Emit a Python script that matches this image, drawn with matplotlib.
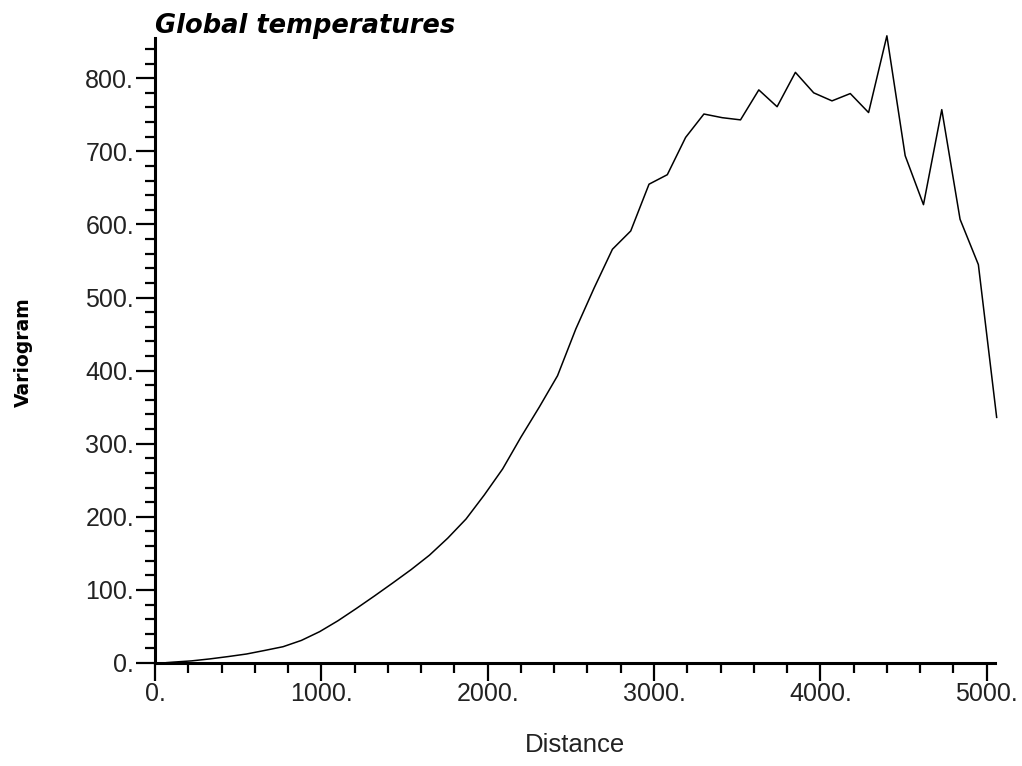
import matplotlib
matplotlib.use("Agg")
import matplotlib.pyplot as plt
from matplotlib.ticker import MultipleLocator, FuncFormatter

# Data
distance = [70, 110, 220, 330, 440, 550, 660, 770, 880, 990, 1100,
            1210, 1320, 1430, 1540, 1650, 1760, 1870, 1980, 2090, 2200,
            2310, 2420, 2530, 2640, 2750, 2860, 2970, 3080, 3190, 3300,
            3410, 3520, 3630, 3740, 3850, 3960, 4070, 4180, 4290, 4400,
            4510, 4620, 4730, 4840, 4950, 5060]
variogram = [0.5, 1.2, 2.9, 5.6, 8.8, 12.3, 17.2, 22.3, 30.9, 42.9, 57.8,
             74.5, 91.8, 109.6, 127.8, 147.5, 170.8, 197, 230, 265.5, 309,
             350, 393, 457, 513, 566, 591, 655, 668, 719, 751,
             746, 743, 784, 761, 808, 780, 769, 779, 753, 858,
             694, 627, 757, 607, 545, 336]

title = "Global temperatures"
xlabel = "Distance"
ylabel = "Variogram"

fig = plt.figure(figsize=(10.22, 7.66), dpi=100)
ax = fig.add_axes([155/1022, 1 - 663/766, 840/1022, 625/766])

ax.plot(distance, variogram, color="black", linewidth=1.1, clip_on=False)

ax.set_xlim(0, 5050)
ax.set_ylim(0, 855)

for s in ["top", "right"]:
    ax.spines[s].set_visible(False)
for s in ["left", "bottom"]:
    ax.spines[s].set_linewidth(2.2)
    ax.spines[s].set_color("black")

ax.xaxis.set_major_locator(MultipleLocator(1000))
ax.xaxis.set_minor_locator(MultipleLocator(200))
ax.yaxis.set_major_locator(MultipleLocator(100))
ax.yaxis.set_minor_locator(MultipleLocator(20))

fmt = FuncFormatter(lambda v, p: f"{int(round(v))}.")
ax.xaxis.set_major_formatter(fmt)
ax.yaxis.set_major_formatter(fmt)

ax.tick_params(axis="both", which="major", direction="out", length=14,
               width=1.6, color="black", labelsize=18, labelcolor="#222222", pad=1)
ax.tick_params(axis="both", which="minor", direction="out", length=7,
               width=1.6, color="black")
ax.tick_params(axis="x", which="major", length=13, pad=1)
for lab in ax.get_xticklabels() + ax.get_yticklabels():
    lab.set_fontfamily("Liberation Sans")

fig.text(155/1022, 1 - 33/766, title, fontsize=18.5, fontweight="bold",
         fontstyle="italic", family="DejaVu Sans", ha="left", va="baseline")
fig.text(575/1022, 1 - 745/766, xlabel, fontsize=18.5, family="Liberation Sans",
         color="#222222", ha="center", va="center")
fig.text(23/1022, 1 - 352/766, ylabel, fontsize=13.5, fontweight="bold",
         family="DejaVu Sans", rotation=90, ha="center", va="center")

fig.savefig("out.png", dpi=100, facecolor="white")
